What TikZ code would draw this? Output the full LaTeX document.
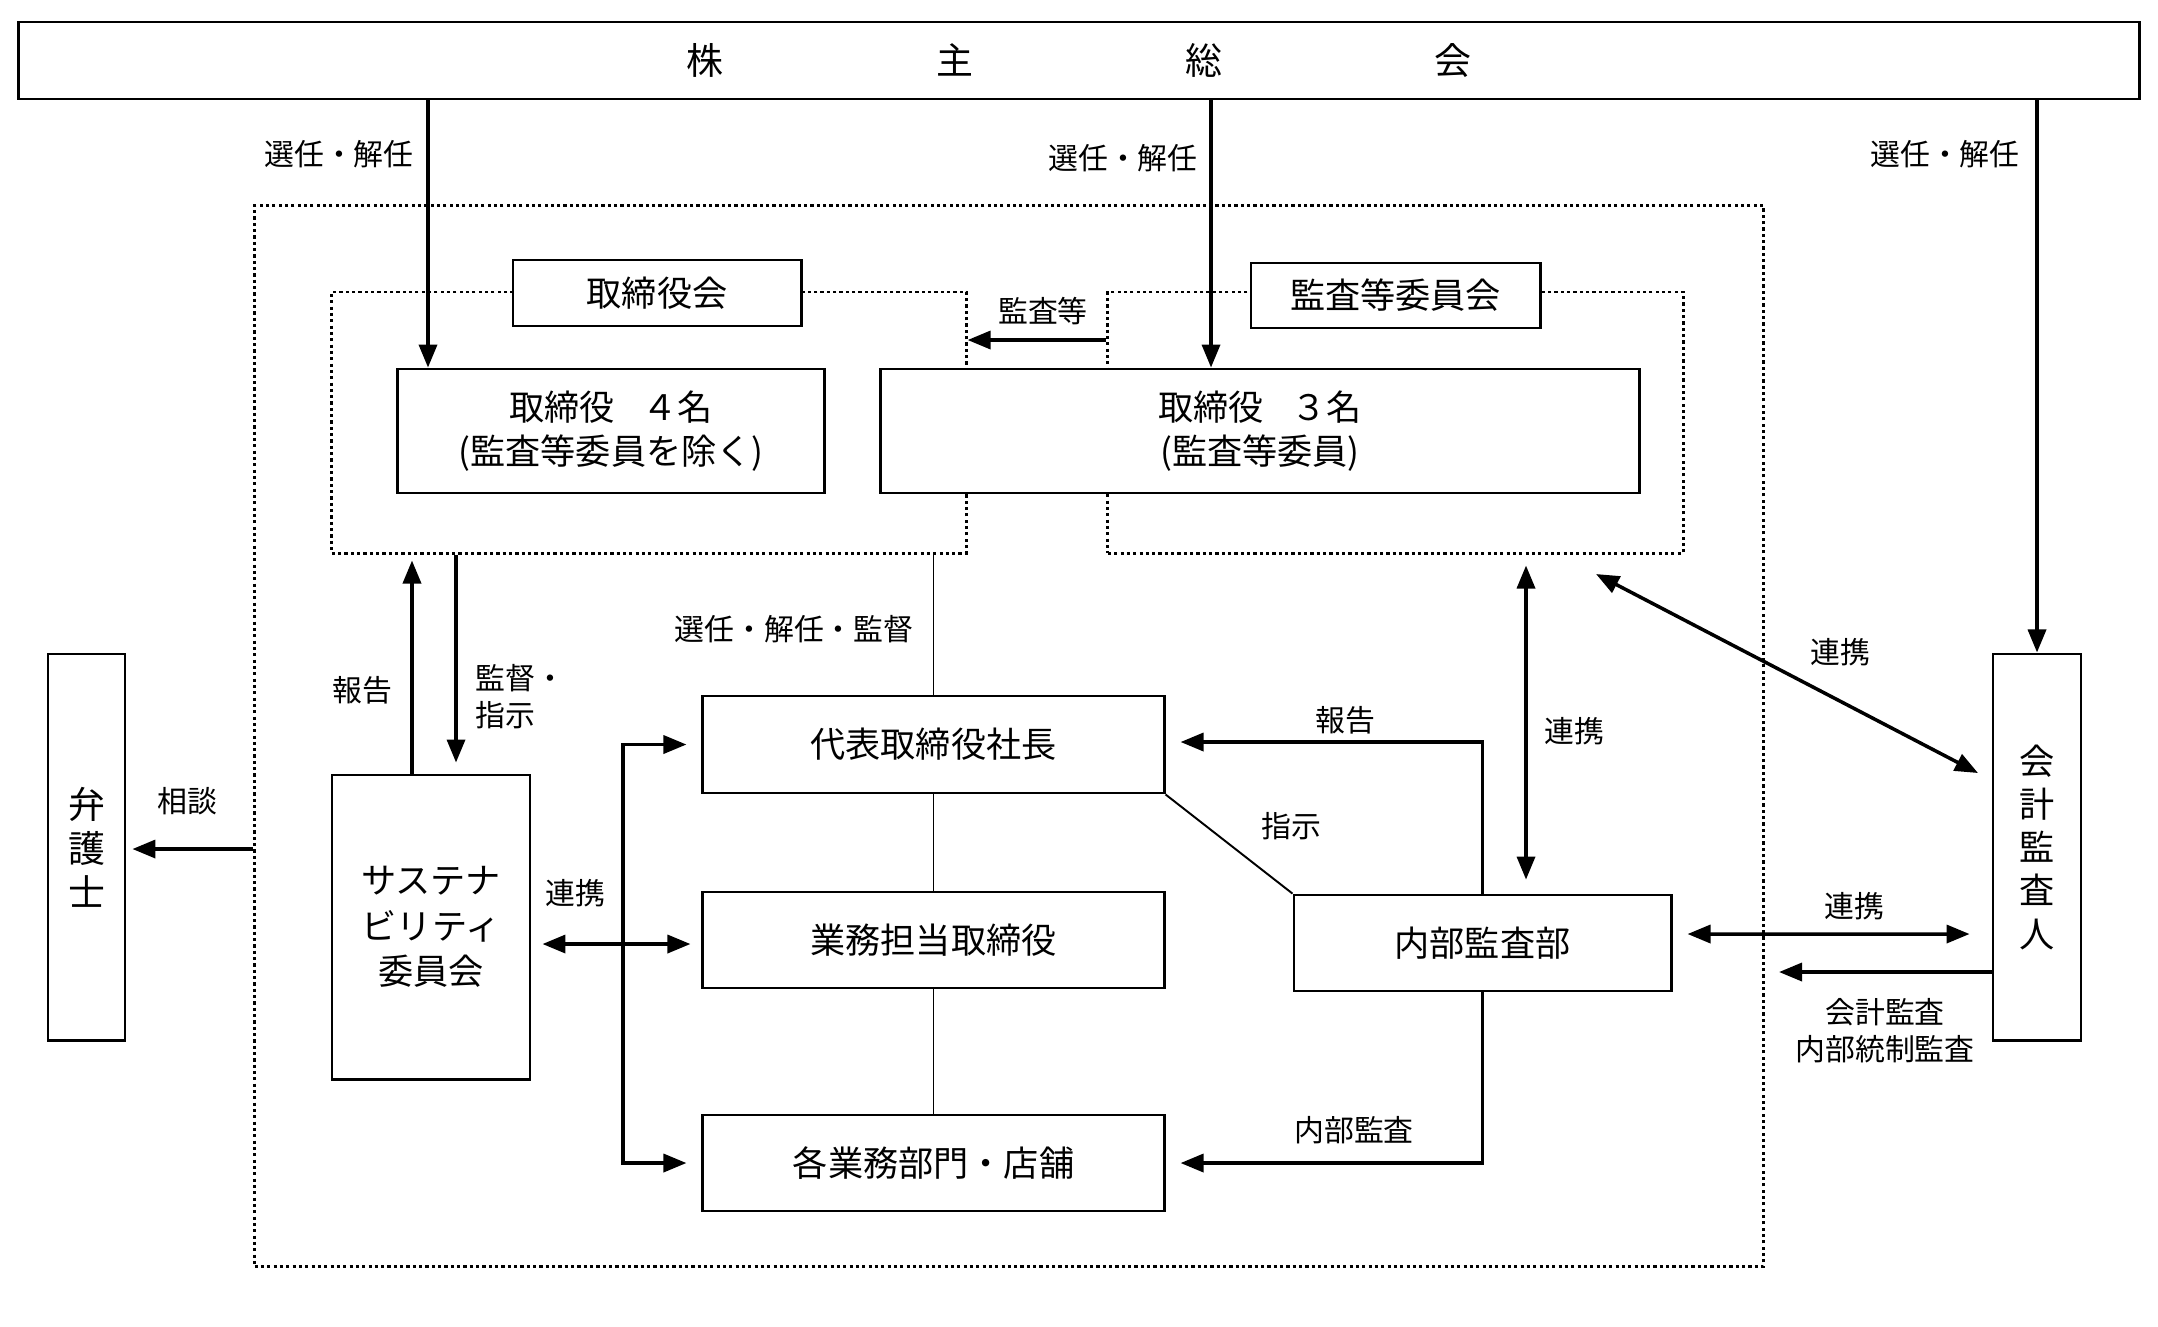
\documentclass[tikz,border=0pt]{standalone}
\usepackage{fontspec}
\setmainfont{Noto Sans CJK JP}
\usetikzlibrary{positioning, arrows.meta, calc}

\begin{document}
\begin{tikzpicture}[x=0.01cm, y=-0.01cm,
    box/.style={draw, line width=0.8pt, fill=white, font=\fontsize{10}{12.5}\selectfont, align=center, inner sep=0pt},
    grp/.style={draw, dash pattern=on 0.9pt off 0.9pt, line width=0.8pt, inner sep=0pt},
    lbl/.style={font=\fontsize{8.5}{10.5}\selectfont, align=center, inner sep=0pt},
    arr/.style={-{Triangle[length=2.3mm, width=1.8mm]}, line width=1pt},
    dbl/.style={{Triangle[length=2.3mm, width=1.8mm]}-{Triangle[length=2.3mm, width=1.8mm]}, line width=1pt},
    plainln/.style={line width=0.55pt}]
    \useasboundingbox (0,0) rectangle (2158,1326);

    % 株主総会
    \node[box, minimum width=21.2cm, minimum height=0.77cm, font=\fontsize{10.5}{12.5}\selectfont] (gms) at (1079,60.5)
        {株\hspace{2.12cm}主\hspace{2.12cm}総\hspace{2.12cm}会};

    % 外枠・グループ
    \node[grp, minimum width=15.08cm, minimum height=10.6cm] (outer) at (1009,736) {};
    \node[grp, minimum width=6.34cm, minimum height=2.61cm] (brdgrp) at (649,422.5) {};
    \node[grp, minimum width=5.75cm, minimum height=2.61cm] (audgrp) at (1395.5,422.5) {};
    \node[box, minimum width=2.88cm, minimum height=0.66cm] (brdlbl) at (657,293) {取締役会};
    \node[box, minimum width=2.89cm, minimum height=0.65cm] (audlbl) at (1395.5,295.5) {監査等委員会};

    % 取締役
    \node[box, minimum width=4.26cm, minimum height=1.24cm] (dir4) at (611,431) {取締役\hspace{0.8em}４名\\(監査等委員を除く)};
    \node[box, minimum width=7.58cm, minimum height=1.24cm] (dir3) at (1260,431) {取締役\hspace{0.8em}３名\\(監査等委員)};

    % 左右の箱
    \node[box, minimum width=0.77cm, minimum height=3.86cm, font=\fontsize{10.5}{12.5}\selectfont] (lawyer) at (86.5,847) {弁\\護\\士};
    \node[box, minimum width=0.88cm, minimum height=3.86cm, font=\fontsize{10}{12.3}\selectfont] (cpa) at (2037,847) {会\\計\\監\\査\\人};
    \node[box, minimum width=1.98cm, minimum height=3.04cm, font=\fontsize{10}{13}\selectfont] (sust) at (431,927) {サステナ\\ビリティ\\委員会};

    % 業務執行
    \node[box, minimum width=4.61cm, minimum height=0.97cm] (pres) at (933.5,744.5) {代表取締役社長};
    \node[box, minimum width=4.61cm, minimum height=0.96cm] (exec) at (933.5,940) {業務担当取締役};
    \node[box, minimum width=4.61cm, minimum height=0.96cm] (dept) at (933.5,1163) {各業務部門・店舗};
    \node[box, minimum width=3.77cm, minimum height=0.96cm] (iaudit) at (1482.5,943) {内部監査部};

    % 選任・解任
    \draw[arr] (gms.south -| 428,0) -- (dir4.north -| 428,0);
    \draw[arr] (gms.south -| 1211,0) -- (dir3.north -| 1211,0);
    \draw[arr] (gms.south -| cpa.north) -- (cpa.north);
    \node[lbl] (lsel1) at (339,154) {選任・解任};
    \node[lbl] (lsel2) at (1123,158) {選任・解任};
    \node[lbl] (lsel3) at (1945,154) {選任・解任};

    % 監査等
    \draw[arr] (audgrp.west |- 0,340) -- (brdgrp.east |- 0,340);
    \node[lbl] (laud) at (1043,311) {監査等};

    % 取締役会 -- 代表取締役社長
    \draw[plainln] (pres.north |- brdgrp.south) -- (pres.north);
    \node[lbl] (lsup) at (794,629) {選任・解任・監督};
    \draw[plainln] (pres) -- (exec);
    \draw[plainln] (exec) -- (dept);

    % サステナビリティ委員会
    \draw[arr, shorten >=0.6mm] ([xshift=-1.9mm]sust.north) -- ([xshift=-1.9mm]sust.north |- brdgrp.south);
    \draw[arr, shorten >=1.1mm] ([xshift=2.5mm]sust.north |- brdgrp.south) -- ([xshift=2.5mm]sust.north);
    \node[lbl] (lrep1) at (362,690) {報告};
    \node[lbl, anchor=west, align=left] (linst1) at (475,697) {監督・\\指示};
    \draw[arr, shorten >=0.6mm] (outer.west |- 0,849) -- (lawyer.east |- 0,849);
    \node[lbl] (lcon) at (187,801) {相談};

    % 連携（社内）
    \coordinate (bus) at (623,944);
    \draw[arr, shorten >=1.5mm] (bus) |- (pres.west);
    \draw[arr, shorten >=1.5mm] (bus) |- (dept.west);
    \draw[dbl, shorten <=1.1mm, shorten >=1.1mm] (sust.east |- bus) -- (exec.west |- bus);
    \node[lbl] (llink1) at (575,893) {連携};

    % 内部監査部
    \draw[plainln] (pres.south east) -- (iaudit.north west);
    \node[lbl] (linst2) at (1291,826) {指示};
    \draw[arr, shorten >=1.5mm] (iaudit.north) |- ([yshift=0.025cm]pres.east);
    \node[lbl] (lrep2) at (1345,720) {報告};
    \draw[arr, shorten >=1.5mm] (iaudit.south) |- (dept.east);
    \node[lbl] (linaud) at (1354,1130) {内部監査};
    \coordinate (vlink) at (1526,0);
    \draw[dbl, shorten <=1.1mm, shorten >=1.4mm] (vlink |- audgrp.south) -- (vlink |- iaudit.north);
    \node[lbl] (llink2) at (1574,731) {連携};

    % 会計監査人
    \coordinate (dlinkA) at (1596,574);
    \coordinate (dlinkB) at (1978,773);
    \draw[dbl] (dlinkA) -- (dlinkB);
    \node[lbl] (llink3) at (1840,652) {連携};
    \draw[dbl, shorten <=1.5mm, shorten >=2.2mm] ([yshift=0.09cm]iaudit.east) -- (cpa.west |- 0,934);
    \node[lbl] (llink4) at (1854,906) {連携};
    \draw[arr] (cpa.west |- 0,972) -- (1779,972);
    \node[lbl] (lcpa) at (1885,1031) {会計監査\\内部統制監査};
\end{tikzpicture}
\end{document}
